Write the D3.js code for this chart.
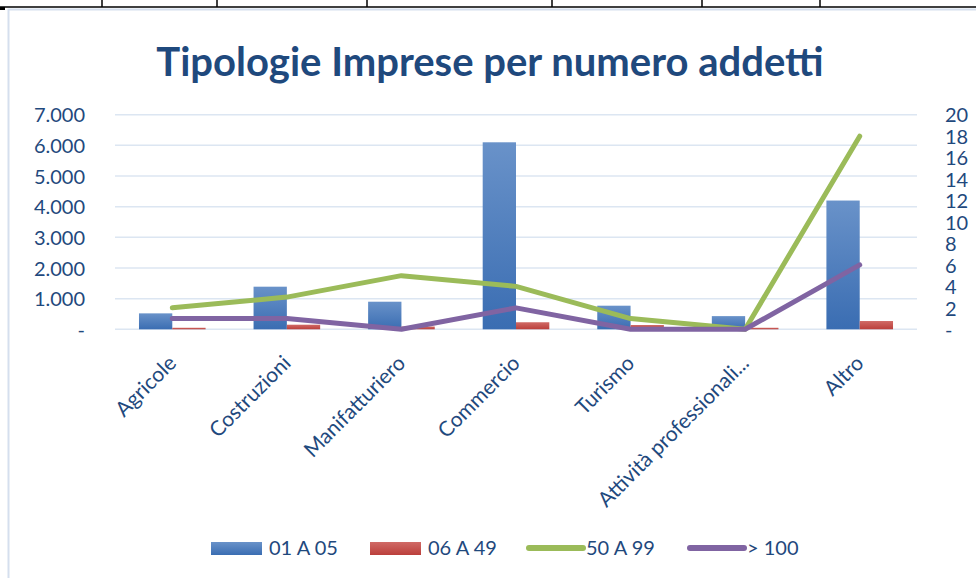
<!DOCTYPE html>
<html>
<head>
  <meta charset="utf-8">
  <script src="https://d3js.org/d3.v7.min.js"></script>
  <title>Tipologie Imprese per numero addetti</title>
  <style>
    body { margin: 0; background: #fff; }
    svg text { font-family: Lato, "Open Sans", sans-serif; fill: #1F497D; }
  </style>
</head>
<body>
  <div class="chart"></div>
  <script>
    // data
    var categories = ['Agricole', 'Costruzioni', 'Manifatturiero', 'Commercio',
                      'Turismo', 'Attività professionali...', 'Altro'];
    var seriesNames = ['01 A 05', '06 A 49', '50 A 99', '> 100'];
    var small = [520, 1390, 900, 6100, 770, 430, 4200];     // 01 A 05 (left axis)
    var medium = [50, 150, 90, 230, 140, 50, 270];          // 06 A 49 (left axis)
    var large = [2, 3, 5, 4, 1, 0, 18];                     // 50 A 99 (right axis)
    var huge = [1, 1, 0, 2, 0, 0, 6];                       // > 100 (right axis)
    var leftTicks = [0, 1000, 2000, 3000, 4000, 5000, 6000, 7000];
    var rightTicks = [0, 2, 4, 6, 8, 10, 12, 14, 16, 18, 20];

    var W = 976, H = 578;
    var plot = {left: 115, right: 917, top: 114.7, bottom: 329.3};

    var svg = d3.select('.chart').append('svg')
      .attr('width', W)
      .attr('height', H);

    var defs = svg.append('defs');
    function gradient(id, top, bottom) {
      var g = defs.append('linearGradient')
        .attr('id', id)
        .attr('x1', 0).attr('y1', 0).attr('x2', 0).attr('y2', 1);
      g.append('stop').attr('offset', '0%').attr('stop-color', top);
      g.append('stop').attr('offset', '100%').attr('stop-color', bottom);
    }
    gradient('gBlue', '#6992C9', '#3A6DB2');
    gradient('gRed', '#D06A66', '#BB3F3B');

    // the spreadsheet table lines above the chart
    svg.append('line')
      .attr('x1', 0).attr('x2', W).attr('y1', 7).attr('y2', 7)
      .attr('stroke', '#000').attr('stroke-width', 1.5);
    [102, 217, 367, 552, 702, 820].forEach(function(x) {
      svg.append('line')
        .attr('x1', x).attr('x2', x).attr('y1', 0).attr('y2', 7)
        .attr('stroke', '#000').attr('stroke-width', 1.5);
    });
    svg.append('rect').attr('x', 0).attr('y', 7).attr('width', 5).attr('height', 3).attr('fill', '#000');

    // chart area
    svg.append('rect')
      .attr('x', 8.5).attr('y', 9.5)
      .attr('width', W + 10).attr('height', H + 10)
      .attr('fill', '#fff')
      .attr('stroke', '#D5DFEE')
      .attr('stroke-width', 2);

    svg.append('text')
      .attr('x', 490).attr('y', 76)
      .attr('text-anchor', 'middle')
      .style('font-size', '40px')
      .style('font-weight', 'bold')
      .style('fill', '#1F497D')
      .text('Tipologie Imprese per numero addetti');

    var x = d3.scaleBand()
      .domain(categories)
      .range([plot.left, plot.right]);

    var inner = d3.scaleBand()
      .domain(['a', 'b'])
      .range([0, x.bandwidth()])
      .paddingOuter(0.72)
      .paddingInner(0);

    var yL = d3.scaleLinear().domain([0, 7000]).range([plot.bottom, plot.top]);
    var yR = d3.scaleLinear().domain([0, 20]).range([plot.bottom, plot.top]);

    var fmt = function(d) {
      return d === 0 ? '-' : d3.format(',')(d).replace(/,/g, '.');
    };

    // gridlines
    svg.append('g')
      .selectAll('line')
      .data(leftTicks)
      .join('line')
      .attr('x1', plot.left).attr('x2', plot.right)
      .attr('y1', function(d) { return yL(d); })
      .attr('y2', function(d) { return yL(d); })
      .attr('stroke', '#DCE6F2')
      .attr('stroke-width', 1.5);

    // left axis
    var axL = svg.append('g')
      .attr('transform', 'translate(' + (plot.left - 27) + ',0)')
      .call(d3.axisLeft(yL).tickValues(leftTicks).tickFormat(fmt).tickSize(0));
    axL.select('.domain').remove();
    axL.selectAll('text')
      .attr('dy', '0.36em')
      .style('font-size', '20px');

    // right axis
    var axR = svg.append('g')
      .attr('transform', 'translate(' + (plot.right + 25) + ',0)')
      .call(d3.axisRight(yR).tickValues(rightTicks).tickFormat(fmt).tickSize(0));
    axR.select('.domain').remove();
    axR.selectAll('text')
      .attr('dy', '0.36em')
      .style('font-size', '20px');

    // bars
    var groups = svg.append('g')
      .selectAll('g')
      .data(categories)
      .join('g')
      .attr('transform', function(d) { return 'translate(' + x(d) + ',0)'; });

    groups.append('rect')
      .attr('x', inner('a'))
      .attr('width', inner.bandwidth())
      .attr('y', function(d, i) { return yL(small[i]); })
      .attr('height', function(d, i) { return yL(0) - yL(small[i]); })
      .attr('fill', 'url(#gBlue)');

    groups.append('rect')
      .attr('x', inner('b'))
      .attr('width', inner.bandwidth())
      .attr('y', function(d, i) { return yL(medium[i]); })
      .attr('height', function(d, i) { return yL(0) - yL(medium[i]); })
      .attr('fill', 'url(#gRed)');

    // lines
    var line = d3.line()
      .x(function(d, i) { return x(categories[i]) + x.bandwidth() / 2; })
      .y(function(d) { return yR(d); });

    svg.append('path')
      .datum(large)
      .attr('d', line)
      .attr('fill', 'none')
      .attr('stroke', '#9BBB59')
      .attr('stroke-width', 5)
      .attr('stroke-linejoin', 'round')
      .attr('stroke-linecap', 'round');

    svg.append('path')
      .datum(huge)
      .attr('d', line)
      .attr('fill', 'none')
      .attr('stroke', '#8064A2')
      .attr('stroke-width', 5)
      .attr('stroke-linejoin', 'round')
      .attr('stroke-linecap', 'round');

    // category labels
    svg.append('g')
      .selectAll('text')
      .data(categories)
      .join('text')
      .attr('transform', function(d) {
        return 'translate(' + (x(d) + x.bandwidth() / 2) + ',' + (plot.bottom + 30) + ') rotate(-45)';
      })
      .attr('text-anchor', 'end')
      .attr('dy', '0.35em')
      .style('font-size', '21px')
      .text(function(d) { return d; });

    // legend
    var legendX = [211, 370, 527, 688];
    var legend = svg.append('g')
      .selectAll('g')
      .data(seriesNames)
      .join('g')
      .attr('transform', function(d, i) { return 'translate(' + legendX[i] + ',548)'; });

    legend.each(function(d, i) {
      var g = d3.select(this);
      if (i < 2) {
        g.append('rect')
          .attr('x', 0).attr('y', -6)
          .attr('width', 51).attr('height', 13)
          .attr('fill', i === 0 ? 'url(#gBlue)' : 'url(#gRed)');
        g.append('text')
          .attr('x', 58).attr('dy', '0.36em')
          .style('font-size', '20px')
          .text(d);
      } else {
        g.append('line')
          .attr('x1', 2).attr('x2', 56)
          .attr('stroke', i === 2 ? '#9BBB59' : '#8064A2')
          .attr('stroke-width', 6)
          .attr('stroke-linecap', 'round');
        g.append('text')
          .attr('x', 59).attr('dy', '0.36em')
          .style('font-size', '20px')
          .text(d);
      }
    });
  </script>
</body>
</html>
